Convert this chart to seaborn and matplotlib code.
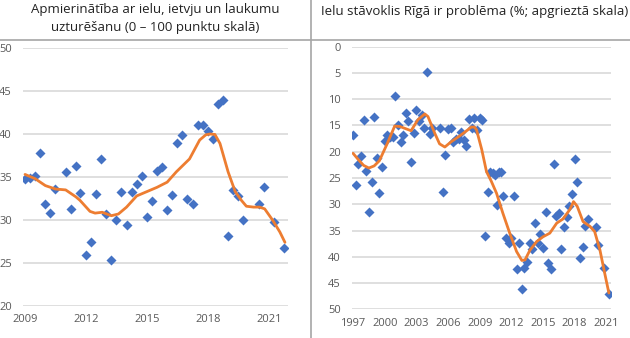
import matplotlib
matplotlib.use("Agg")
import matplotlib.pyplot as plt
import seaborn as sns
import pandas as pd
from matplotlib.lines import Line2D

sns.set_style("white")
plt.rcParams['font.family'] = ['Open Sans', 'DejaVu Sans']

# ---- Left panel data: satisfaction (0-100 points) ----
left_x = [2009.0, 2009.25, 2009.5, 2009.75, 2010.0, 2010.25, 2010.5, 2011.0, 2011.25,
          2011.5, 2011.7, 2012.0, 2012.25, 2012.5, 2012.75, 2013.0, 2013.25, 2013.5,
          2013.75, 2014.0, 2014.25, 2014.5, 2014.75, 2015.0, 2015.25, 2015.5, 2015.75,
          2016.0, 2016.25, 2016.5, 2016.75, 2017.0, 2017.25, 2017.5, 2017.75, 2018.0,
          2018.25, 2018.5, 2018.75, 2019.0, 2019.25, 2019.5, 2019.75, 2020.5, 2020.75,
          2021.25, 2021.75]
left_y = [34.8, 34.9, 35.1, 37.8, 31.9, 30.8, 33.6, 35.6, 31.3,
          36.3, 33.1, 25.9, 27.4, 33.0, 37.1, 30.7, 25.4, 30.0,
          33.3, 29.4, 33.3, 34.2, 35.1, 30.4, 32.2, 35.7, 36.2,
          31.2, 32.9, 38.9, 39.9, 32.4, 31.9, 41.1, 41.1, 40.4,
          39.4, 43.5, 43.9, 28.1, 33.5, 32.8, 30.0, 31.9, 33.8,
          29.8, 26.7]
left_trend_x = [2009.0, 2009.5, 2010.0, 2010.5, 2011.0, 2011.5, 2011.7, 2012.2, 2012.45,
                2012.8, 2013.25, 2013.6, 2014.0, 2014.5, 2015.0, 2015.5, 2016.0, 2016.45,
                2017.1, 2017.6, 2017.9, 2018.1, 2018.35, 2018.6, 2019.0, 2019.35, 2019.65,
                2019.9, 2020.25, 2020.55, 2020.8, 2021.2, 2021.55, 2021.8]
left_trend_y = [35.3, 34.8, 34.0, 33.6, 33.5, 32.7, 32.3, 31.0, 30.8,
                30.9, 30.5, 30.7, 31.5, 32.8, 33.3, 33.8, 34.4, 35.6,
                37.1, 39.3, 39.9, 40.0, 39.95, 38.9, 35.6, 33.3, 32.3,
                31.6, 31.5, 31.5, 31.3, 29.96, 28.6, 27.4]
left_xticks = [2009, 2012, 2015, 2018, 2021]
left_yticks = [20, 25, 30, 35, 40, 45, 50]
left_title = "Apmierinātība ar ielu, ietvju un laukumu\nuzturēšanu (0 – 100 punktu skalā)"

# ---- Right panel data: streets a problem (%; inverted) ----
right_x = [1997.0, 1997.25, 1997.5, 1997.75, 1998.0, 1998.25, 1998.5, 1998.75, 1999.0,
           1999.25, 1999.5, 1999.75, 2000.0, 2000.25, 2000.5, 2000.75, 2001.0, 2001.25,
           2001.5, 2001.75, 2002.0, 2002.25, 2002.5, 2002.75, 2003.0, 2003.25, 2003.5,
           2003.75, 2004.0, 2004.25, 2004.5, 2005.25, 2005.5, 2005.75, 2006.0, 2006.25,
           2006.5, 2006.75, 2007.0, 2007.25, 2007.5, 2007.75, 2008.0, 2008.25, 2008.5,
           2008.75, 2009.0, 2009.25, 2009.5, 2009.75, 2010.0, 2010.25, 2010.5, 2010.65,
           2010.85, 2011.0, 2011.25, 2011.5, 2011.75, 2012.0, 2012.25, 2012.5, 2012.75,
           2013.0, 2013.25, 2013.5, 2013.75, 2014.0, 2014.25, 2014.5, 2014.75, 2015.0,
           2015.25, 2015.5, 2015.75, 2016.0, 2016.25, 2016.5, 2016.75, 2017.0, 2017.25,
           2017.5, 2017.75, 2018.0, 2018.25, 2018.5, 2018.75, 2019.0, 2019.25, 2020.0,
           2020.25, 2020.75, 2021.25]
right_y = [16.9, 26.4, 22.3, 20.8, 13.9, 23.6, 31.5, 25.7, 13.3,
           21.2, 27.9, 22.9, 17.9, 16.9, 17.2, 17.2, 9.4, 14.9,
           18.1, 16.8, 12.6, 14.2, 22.0, 16.5, 12.0, 14.1, 13.0,
           15.4, 4.75, 16.7, 15.5, 15.4, 27.6, 20.7, 15.6, 15.4,
           18.1, 17.5, 17.5, 16.2, 17.7, 19.0, 13.7, 15.4, 13.6,
           15.9, 13.6, 13.9, 36.0, 27.6, 23.8, 24.1, 24.4, 30.2,
           23.9, 23.8, 28.4, 36.4, 37.4, 36.4, 28.4, 42.4, 37.4,
           46.1, 42.1, 40.9, 37.3, 38.5, 33.6, 37.3, 35.7, 38.3,
           31.4, 41.1, 42.3, 22.4, 32.2, 31.7, 38.5, 34.3, 32.5,
           30.3, 28.1, 21.35, 25.7, 40.3, 38.2, 34.2, 32.8, 34.3,
           37.8, 42.1, 47.1]
right_trend_x = [1997.0, 1997.5, 1998.0, 1998.5, 1999.0, 1999.5, 2000.25, 2000.95, 2001.45,
                 2002.5, 2003.15, 2003.8, 2004.1, 2004.75, 2005.2, 2005.7, 2006.3, 2007.1,
                 2007.9, 2008.2, 2008.5, 2008.7, 2009.2, 2009.65, 2010.1, 2010.6, 2011.2,
                 2011.85, 2012.5, 2013.0, 2013.3, 2013.75, 2014.4, 2015.0, 2015.65, 2016.3,
                 2016.9, 2017.55, 2017.9, 2018.25, 2018.8, 2019.45, 2019.9, 2020.4, 2020.85,
                 2021.25]
right_trend_y = [20.3, 21.5, 22.6, 23.1, 22.7, 21.7, 18.4, 15.1, 15.2,
                 16.0, 13.9, 12.8, 13.3, 16.5, 18.5, 19.1, 18.1, 17.0,
                 15.8, 15.3, 15.3, 15.8, 19.6, 23.8, 25.6, 27.9, 31.7,
                 35.5, 39.0, 40.7, 40.6, 38.8, 37.1, 36.2, 35.5, 33.6,
                 32.8, 31.0, 29.5, 30.4, 33.3, 34.2, 35.2, 38.7, 43.1,
                 46.9]
right_xticks = [1997, 2000, 2003, 2006, 2009, 2012, 2015, 2018, 2021]
right_yticks = [0, 5, 10, 15, 20, 25, 30, 35, 40, 45, 50]
right_title = "Ielu stāvoklis Rīgā ir problēma (%; apgrieztā skala)"

BLUE = "#4472C4"
ORANGE = "#ED7D31"
GRID = "#d9d9d9"
TEXT = "#595959"

W, H = 630, 338
fig = plt.figure(figsize=(W / 100, H / 100), dpi=100)


def px_axes(x0, x1, ytop, ybot):
    return fig.add_axes([x0 / W, 1 - ybot / H, (x1 - x0) / W, (ybot - ytop) / H])


def style(ax, xticks, yticks):
    for s in ax.spines.values():
        s.set_visible(False)
    ax.set_xticks(xticks)
    ax.set_yticks(yticks)
    ax.yaxis.grid(True, color=GRID, linewidth=1.2)
    ax.xaxis.grid(False)
    ax.set_axisbelow(True)
    ax.tick_params(axis='both', length=0, labelsize=8, colors=TEXT)
    ax.tick_params(axis='y', pad=8)
    ax.tick_params(axis='x', pad=6)
    ax.set_xlabel("")
    ax.set_ylabel("")


# Left panel
axL = px_axes(23, 288, 48, 306)
dfL = pd.DataFrame({"x": left_x, "y": left_y})
dfLt = pd.DataFrame({"x": left_trend_x, "y": left_trend_y})
sns.scatterplot(data=dfL, x="x", y="y", ax=axL, marker="D", s=26, color=BLUE,
                edgecolor=BLUE, linewidth=0, zorder=3)
sns.lineplot(data=dfLt, x="x", y="y", ax=axL, color=ORANGE, linewidth=2, zorder=4)
axL.set_xlim(2008.9, 2021.95)
axL.set_ylim(20, 50)
style(axL, left_xticks, left_yticks)

# Right panel
axR = px_axes(352, 611, 46.7, 309.3)
dfR = pd.DataFrame({"x": right_x, "y": right_y})
dfRt = pd.DataFrame({"x": right_trend_x, "y": right_trend_y})
sns.scatterplot(data=dfR, x="x", y="y", ax=axR, marker="D", s=26, color=BLUE,
                edgecolor=BLUE, linewidth=0, zorder=3)
sns.lineplot(data=dfRt, x="x", y="y", ax=axR, color=ORANGE, linewidth=2, zorder=4)
axR.set_xlim(1996.9, 2021.45)
axR.set_ylim(50, 0)
style(axR, right_xticks, right_yticks)

# Titles
fig.text(155 / W, 1 - 19 / H, left_title, ha="center", va="center", fontsize=9.5,
         color="#222222", linespacing=1.5)
fig.text(475 / W, 1 - 12 / H, right_title, ha="center", va="center", fontsize=9.5,
         color="#222222")

# Frame lines
fig.add_artist(Line2D([0, 1], [1 - 40 / H, 1 - 40 / H], transform=fig.transFigure,
                      color="#a6a6a6", linewidth=1.2))
fig.add_artist(Line2D([311 / W, 311 / W], [0, 1], transform=fig.transFigure,
                      color="#a6a6a6", linewidth=1.2))

fig.savefig("out.png", dpi=100)
